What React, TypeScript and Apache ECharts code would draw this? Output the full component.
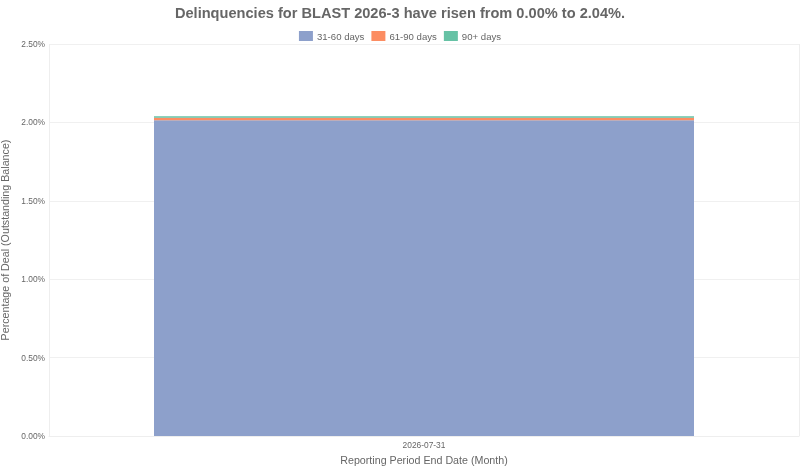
import { useEffect, useRef } from "react";
import * as echarts from "echarts";

const categories = ["2026-07-31"];
const seriesNames = ["31-60 days", "61-90 days", "90+ days"];
const values31to60 = [2.013];
const values61to90 = [0.017];
const values90plus = [0.01];
const colors = ["#8da0cb", "#fc8d62", "#66c2a5"];
const yTicks = [0, 0.5, 1, 1.5, 2, 2.5];

export default function App() {
  const chartRef = useRef<HTMLDivElement>(null);

  useEffect(() => {
    if (!chartRef.current) return;
    const chart = echarts.init(chartRef.current, null, { renderer: "svg" });
    const font = "'Liberation Sans', Arial, sans-serif";
    const data = [values31to60, values61to90, values90plus];

    chart.setOption({
      animation: false,
      textStyle: { fontFamily: font },
      title: {
        text: "Delinquencies for BLAST 2026-3 have risen from 0.00% to 2.04%.",
        left: "center",
        top: 0,
        padding: [5, 5],
        textStyle: { fontSize: 14.6, fontWeight: "bold", color: "#666", fontFamily: font },
      },
      legend: {
        top: 26,
        left: "center",
        icon: "rect",
        itemWidth: 14,
        itemHeight: 10,
        itemGap: 7,
        textStyle: { fontSize: 9.6, color: "#666", fontFamily: font, padding: [0, 0, 0, -1] },
        data: seriesNames,
      },
      grid: {
        left: 49,
        right: 1,
        top: 44,
        bottom: 30,
        containLabel: false,
        outerBoundsMode: "none",
      },
      xAxis: {
        type: "category",
        data: categories,
        name: "Reporting Period End Date (Month)",
        nameLocation: "middle",
        nameGap: 18,
        nameTextStyle: { fontSize: 10.7, color: "#666", fontFamily: font },
        axisLine: { show: true, lineStyle: { color: "#eee" } },
        axisTick: { show: false },
        axisLabel: { fontSize: 8.4, color: "#666", margin: 5 },
        splitLine: { show: true, lineStyle: { color: "#eee" } },
      },
      yAxis: {
        type: "value",
        min: 0,
        max: yTicks[yTicks.length - 1],
        interval: 0.5,
        name: "Percentage of Deal (Outstanding Balance)",
        nameLocation: "middle",
        nameGap: 30,
        nameTextStyle: { fontSize: 10.7, color: "#666", fontFamily: font },
        axisLine: { show: false },
        axisTick: { show: false },
        axisLabel: {
          fontSize: 8.4,
          color: "#666",
          margin: 4,
          formatter: (v: number) => v.toFixed(2) + "%",
        },
        splitLine: { show: true, lineStyle: { color: "#f0f0f0" } },
      },
      series: seriesNames.map((name, i) => ({
        name,
        type: "bar",
        stack: "total",
        barWidth: "72%",
        data: data[i],
        itemStyle: { color: colors[i] },
      })),
    });

    return () => {
      chart.dispose();
    };
  }, []);

  return (
    <div
      ref={chartRef}
      style={{ position: "fixed", left: 0, top: 0, width: 800, height: 466 }}
    />
  );
}
